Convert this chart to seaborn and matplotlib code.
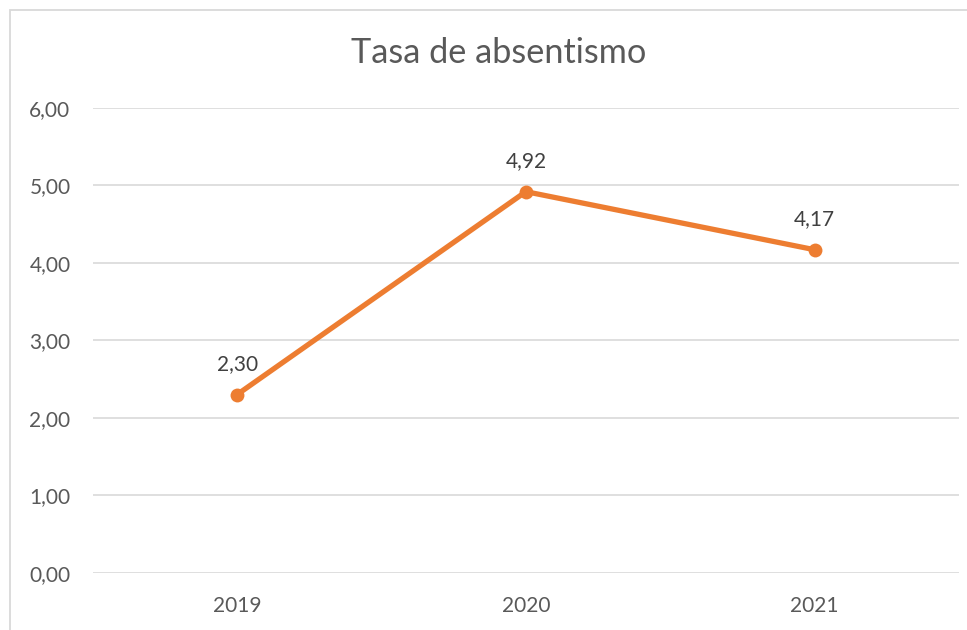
import matplotlib
matplotlib.use("Agg")
import matplotlib.pyplot as plt
from matplotlib.patches import Rectangle
import seaborn as sns
import pandas as pd

years = ["2019", "2020", "2021"]
rates = [2.30, 4.92, 4.17]
y_ticks = [0, 1, 2, 3, 4, 5, 6]
title = "Tasa de absentismo"

sns.set_theme(style="white")
plt.rcParams["font.family"] = ["Lato", "DejaVu Sans"]

W, H = 967, 630
fig = plt.figure(figsize=(W / 100, H / 100), dpi=100)
fig.patch.set_facecolor("white")

# chart frame, partly clipped by the figure edges
fig.patches.append(Rectangle((10 / W, 1 - 640 / H), 1000 / W, 630 / H,
                             transform=fig.transFigure, fill=False,
                             edgecolor="#D9D9D9", linewidth=1.3))

ax = fig.add_axes([92.7 / W, (H - 572.7) / H, (959 - 92.7) / W, (572.7 - 108) / H])

df = pd.DataFrame({"year": years, "rate": rates})
df["pos"] = range(len(years))

ax.set_ylim(0, 6)
ax.set_xlim(-0.5, len(years) - 0.5)
ax.set_yticks(y_ticks)
ax.set_yticklabels([f"{v:.2f}".replace(".", ",") for v in y_ticks])
ax.set_xticks(df["pos"])
ax.set_xticklabels(years)
ax.grid(axis="y", color="#D9D9D9", linewidth=1.2)
ax.set_axisbelow(True)
for s in ax.spines.values():
    s.set_visible(False)
ax.tick_params(axis="both", length=0, labelsize=15, labelcolor="#595959")
ax.tick_params(axis="y", pad=16)
ax.tick_params(axis="x", pad=17)

sns.lineplot(data=df, x="pos", y="rate", ax=ax, color="#ED7D31", linewidth=3.8,
             marker="o", markersize=10, markeredgewidth=0, zorder=3)
ax.set_xlabel("")
ax.set_ylabel("")

for x, v in zip(df["pos"], df["rate"]):
    ax.annotate(f"{v:.2f}".replace(".", ","), (x, v), xytext=(0, 22),
                textcoords="offset points", ha="center", va="center",
                fontsize=15, color="#404040")

fig.text(499 / W, 1 - 53 / H, title, ha="center", va="center",
         fontsize=24.7, color="#595959")

fig.savefig("out.png", dpi=100)
